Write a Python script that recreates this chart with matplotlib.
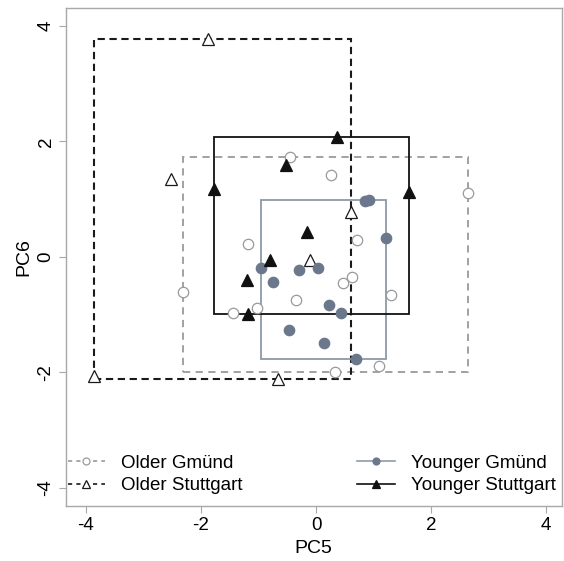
"""
PC5 vs PC6 scatter with group range boxes
"""

import matplotlib
matplotlib.use("Agg")
import matplotlib.pyplot as plt
from matplotlib.lines import Line2D
from matplotlib.patches import Rectangle

# data
older_gmund_x = [-0.45, 0.26, 2.64, -1.19, -2.32, -1.44, -1.03, -0.35, 0.72, 0.62, 0.47, 1.31, 0.33, 1.09]
older_gmund_y = [1.72, 1.41, 1.11, 0.22, -0.61, -0.97, -0.89, -0.75, 0.29, -0.35, -0.45, -0.66, -2.00, -1.90]

older_stutt_x = [-1.88, -2.52, -3.85, -0.66, 0.60, -0.10]
older_stutt_y = [3.78, 1.34, -2.07, -2.12, 0.78, -0.05]

younger_gmund_x = [0.85, 0.92, 1.22, 0.04, -0.30, -0.955, -0.74, -0.47, 0.23, 0.44, 0.13, 0.69]
younger_gmund_y = [0.96, 0.98, 0.33, -0.20, -0.23, -0.19, -0.44, -1.27, -0.84, -0.97, -1.49, -1.78]

younger_stutt_x = [-0.53, -1.77, 0.37, 1.62, -0.16, -0.80, -1.20, -1.18]
younger_stutt_y = [1.59, 1.18, 2.07, 1.12, 0.42, -0.06, -0.41, -1.00]

TICKS = [-4, -2, 0, 2, 4]

COLORS = {
    "older_gmund": "#9a9a9a",
    "older_stutt": "#1a1a1a",
    "younger_gmund_pt": "#6b788c",
    "younger_gmund_box": "#8e9aaa",
    "younger_stutt": "#111111",
    "frame": "#a8a8a8",
}

plt.rcParams["font.family"] = ["Liberation Sans", "DejaVu Sans"]

fig = plt.figure(figsize=(5.64, 5.61), dpi=100)
ax = fig.add_axes([0.1165, 0.098, 0.8795, 0.8877])

groups = [
    # label, x, y, marker, face, edge, box color, linestyle, linewidth
    ("Older Gmünd", older_gmund_x, older_gmund_y, "o", "white", COLORS["older_gmund"], COLORS["older_gmund"], (0, (4, 3)), 1.3),
    ("Older Stuttgart", older_stutt_x, older_stutt_y, "^", "white", COLORS["older_stutt"], COLORS["older_stutt"], (0, (3.5, 2.2)), 1.5),
    ("Younger Gmünd", younger_gmund_x, younger_gmund_y, "o", COLORS["younger_gmund_pt"], COLORS["younger_gmund_pt"], COLORS["younger_gmund_box"], "-", 1.3),
    ("Younger Stuttgart", younger_stutt_x, younger_stutt_y, "^", COLORS["younger_stutt"], COLORS["younger_stutt"], COLORS["younger_stutt"], "-", 1.3),
]

handles = []
for label, xs, ys, mk, fc, ec, bc, ls, lw in groups:
    x0, x1 = min(xs), max(xs)
    y0, y1 = min(ys), max(ys)
    ax.add_patch(Rectangle((x0, y0), x1 - x0, y1 - y0, fill=False,
                           edgecolor=bc, linestyle=ls, linewidth=lw, zorder=2))
    ms = 7.5 if mk == "o" else 8.5
    ax.plot(xs, ys, linestyle="none", marker=mk, markersize=ms,
            markerfacecolor=fc, markeredgecolor=ec, markeredgewidth=0.9, zorder=3)
    handles.append(Line2D([], [], color=bc, linestyle=ls if ls == "-" else (0, (2.5, 2.5)),
                          linewidth=1.2, marker=mk,
                          markersize=5 if mk == "o" else 6, markerfacecolor=fc,
                          markeredgecolor=ec, markeredgewidth=0.9, label=label))

ax.set_xlim(-4.35, 4.27)
ax.set_ylim(-4.32, 4.31)
ax.set_xticks(TICKS)
ax.set_yticks(TICKS)
ax.set_xticklabels([str(t) for t in TICKS])
ax.set_yticklabels([str(t) for t in TICKS], rotation=90, va="center")
ax.tick_params(direction="out", length=5, width=0.8, color=COLORS["frame"],
               labelsize=13.5, pad=3)
ax.set_xlabel("PC5", fontsize=14, labelpad=4)
ax.set_ylabel("PC6", fontsize=14, labelpad=4)
for sp in ax.spines.values():
    sp.set_color(COLORS["frame"])
    sp.set_linewidth(1.0)

leg_kw = dict(frameon=False, fontsize=13.5, handlelength=2.0, handletextpad=0.85,
              borderaxespad=0, labelspacing=0.28, borderpad=0.0, loc="lower left")
leg1 = ax.legend(handles=handles[:2], bbox_to_anchor=(0.004, 0.024), **leg_kw)
ax.add_artist(leg1)
ax.legend(handles=handles[2:], bbox_to_anchor=(0.588, 0.024), **leg_kw)

fig.savefig("out.png", dpi=100)
